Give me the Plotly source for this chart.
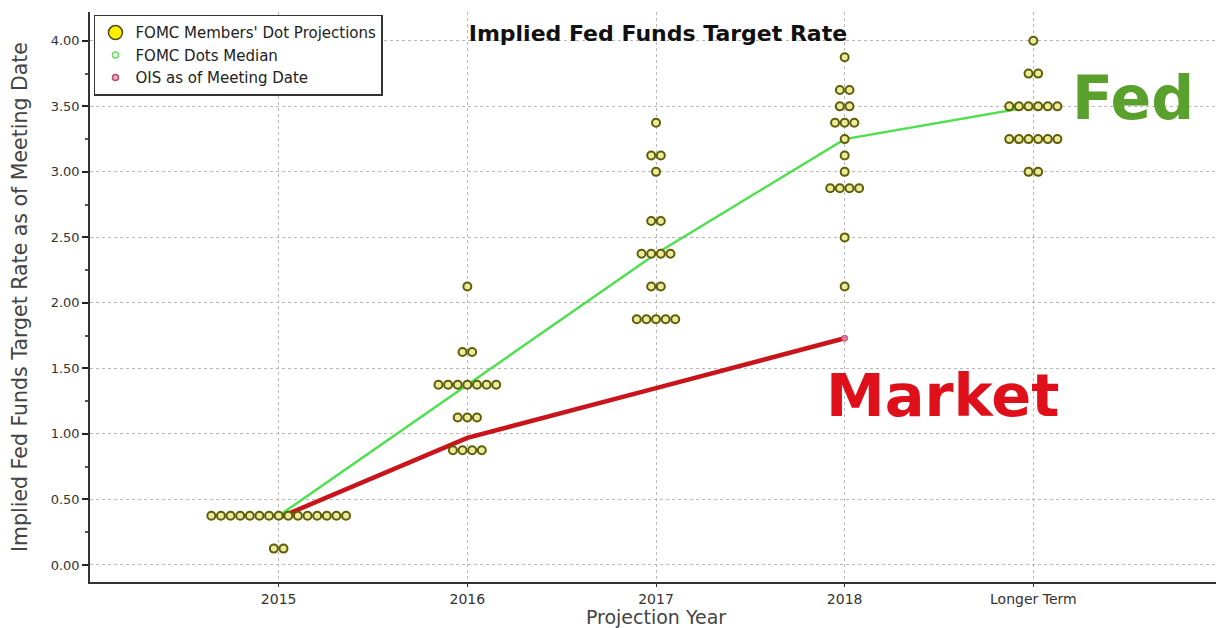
import plotly.graph_objects as go

categories = ["2015", "2016", "2017", "2018", "Longer Term"]

# FOMC dot projections: (rate, number of members) per projection year
dots_2015 = [(0.375, 15), (0.125, 2)]
dots_2016 = [(2.125, 1), (1.625, 2), (1.375, 7), (1.125, 3), (0.875, 4)]
dots_2017 = [(3.375, 1), (3.125, 2), (3.0, 1), (2.625, 2), (2.375, 4), (2.125, 2), (1.875, 5)]
dots_2018 = [(3.875, 1), (3.625, 2), (3.5, 2), (3.375, 3), (3.25, 1), (3.125, 1), (3.0, 1),
             (2.875, 4), (2.5, 1), (2.125, 1)]
dots_longer = [(4.0, 1), (3.75, 2), (3.5, 6), (3.25, 6), (3.0, 2)]
dots_all = [dots_2015, dots_2016, dots_2017, dots_2018, dots_longer]

median_values = [0.375, 1.375, 2.375, 3.25, 3.5]
ois_categories = ["2015", "2016", "2017", "2018"]
ois_values = [0.36, 0.97, 1.35, 1.73]

y_ticks = [0.0, 0.5, 1.0, 1.5, 2.0, 2.5, 3.0, 3.5, 4.0]

FONT = "DejaVu Sans"
DOT_SPACING = 0.051

# build dot positions (horizontal spread of equal values around the category)
dx, dy = [], []
for ci, group in enumerate(dots_all):
    for rate, n in group:
        for i in range(n):
            dx.append(ci + (i - (n - 1) / 2) * DOT_SPACING)
            dy.append(rate)

cat_pos = {c: i for i, c in enumerate(categories)}

fig = go.Figure()

fig.add_trace(go.Scatter(
    x=[cat_pos[c] for c in categories], y=median_values, mode="lines",
    line=dict(color="#4ee04e", width=2.5), showlegend=False, hoverinfo="skip"))

fig.add_trace(go.Scatter(
    x=[cat_pos[c] for c in ois_categories], y=ois_values, mode="lines",
    line=dict(color="#c8141a", width=4.5), showlegend=False, hoverinfo="skip"))

fig.add_trace(go.Scatter(
    x=[cat_pos[ois_categories[-1]]], y=[ois_values[-1]], mode="markers",
    marker=dict(size=6, color="#e07a9a", line=dict(color="#c05070", width=1)),
    showlegend=False, hoverinfo="skip"))

fig.add_trace(go.Scatter(
    x=dx, y=dy, mode="markers",
    marker=dict(size=8, color="#ecea9c", line=dict(color="#5e5e08", width=2)),
    showlegend=False))

# legend-only entries
fig.add_trace(go.Scatter(
    x=[None], y=[None], mode="markers", name="FOMC Members' Dot Projections",
    marker=dict(size=14, color="#ffee00", line=dict(color="#4a4a20", width=1.5))))
fig.add_trace(go.Scatter(
    x=[None], y=[None], mode="markers", name="FOMC Dots Median",
    marker=dict(size=6, color="rgba(0,0,0,0)", line=dict(color="#66dd66", width=1.5))))
fig.add_trace(go.Scatter(
    x=[None], y=[None], mode="markers", name="OIS as of Meeting Date",
    marker=dict(size=6, color="#f0b0c0", line=dict(color="#b05070", width=1.5))))

fig.add_annotation(x=4.53, y=3.56, xref="x", yref="y", text="<b>Fed</b>", showarrow=False,
                   font=dict(family=FONT, size=60, color="#5aa02c"))
fig.add_annotation(x=3.52, y=1.29, xref="x", yref="y", text="<b>Market</b>", showarrow=False,
                   font=dict(family=FONT, size=59, color="#e0101a"))

# the page body has an 8px margin, so the figure is sized/offset to compensate
fig.update_layout(
    width=1216, height=620,
    margin=dict(l=82, r=2, t=4, b=46),
    paper_bgcolor="white", plot_bgcolor="white",
    font=dict(family=FONT, color="#333333", size=12),
    title=dict(text="<b>Implied Fed Funds Target Rate</b>", x=0.5345, xanchor="center",
               y=0.96, yanchor="middle", font=dict(family=FONT, size=22, color="#111111")),
    legend=dict(x=0.0035, y=0.995, xanchor="left", yanchor="top", bgcolor="white",
                bordercolor="#333333", borderwidth=1.5,
                font=dict(family=FONT, size=15, color="#222222"),
                tracegroupgap=0, itemwidth=30),
    showlegend=True,
)

fig.update_xaxes(
    range=[-1, 5], tickmode="array", tickvals=list(range(len(categories))), ticktext=categories,
    showgrid=True, gridcolor="#b8b8b8", griddash="dot", gridwidth=1,
    showline=True, linecolor="#333333", linewidth=1.5, ticks="outside", ticklen=3,
    tickcolor="#333333", zeroline=False, tickfont=dict(size=14, color="#333333"),
    automargin=False,
    title=dict(text="Projection Year", font=dict(size=19, color="#444444"), standoff=5),
)
fig.update_yaxes(
    range=[-0.13, 4.22], tickmode="array", tickvals=y_ticks,
    ticktext=[f"{v:.2f}" for v in y_ticks],
    showgrid=True, gridcolor="#b8b8b8", griddash="dot", gridwidth=1,
    showline=True, linecolor="#333333", linewidth=1.5, ticks="outside", ticklen=6,
    tickwidth=2, tickcolor="#222222", zeroline=False, tickfont=dict(size=13, color="#333333"),
    minor=dict(dtick=0.25, tick0=0, ticks="outside", ticklen=3, tickcolor="#555555", showgrid=False),
    automargin=False,
    title=dict(text="Implied Fed Funds Target Rate as of Meeting Date",
               font=dict(size=20.5, color="#444444"), standoff=19),
)

fig.write_html("out.html")
